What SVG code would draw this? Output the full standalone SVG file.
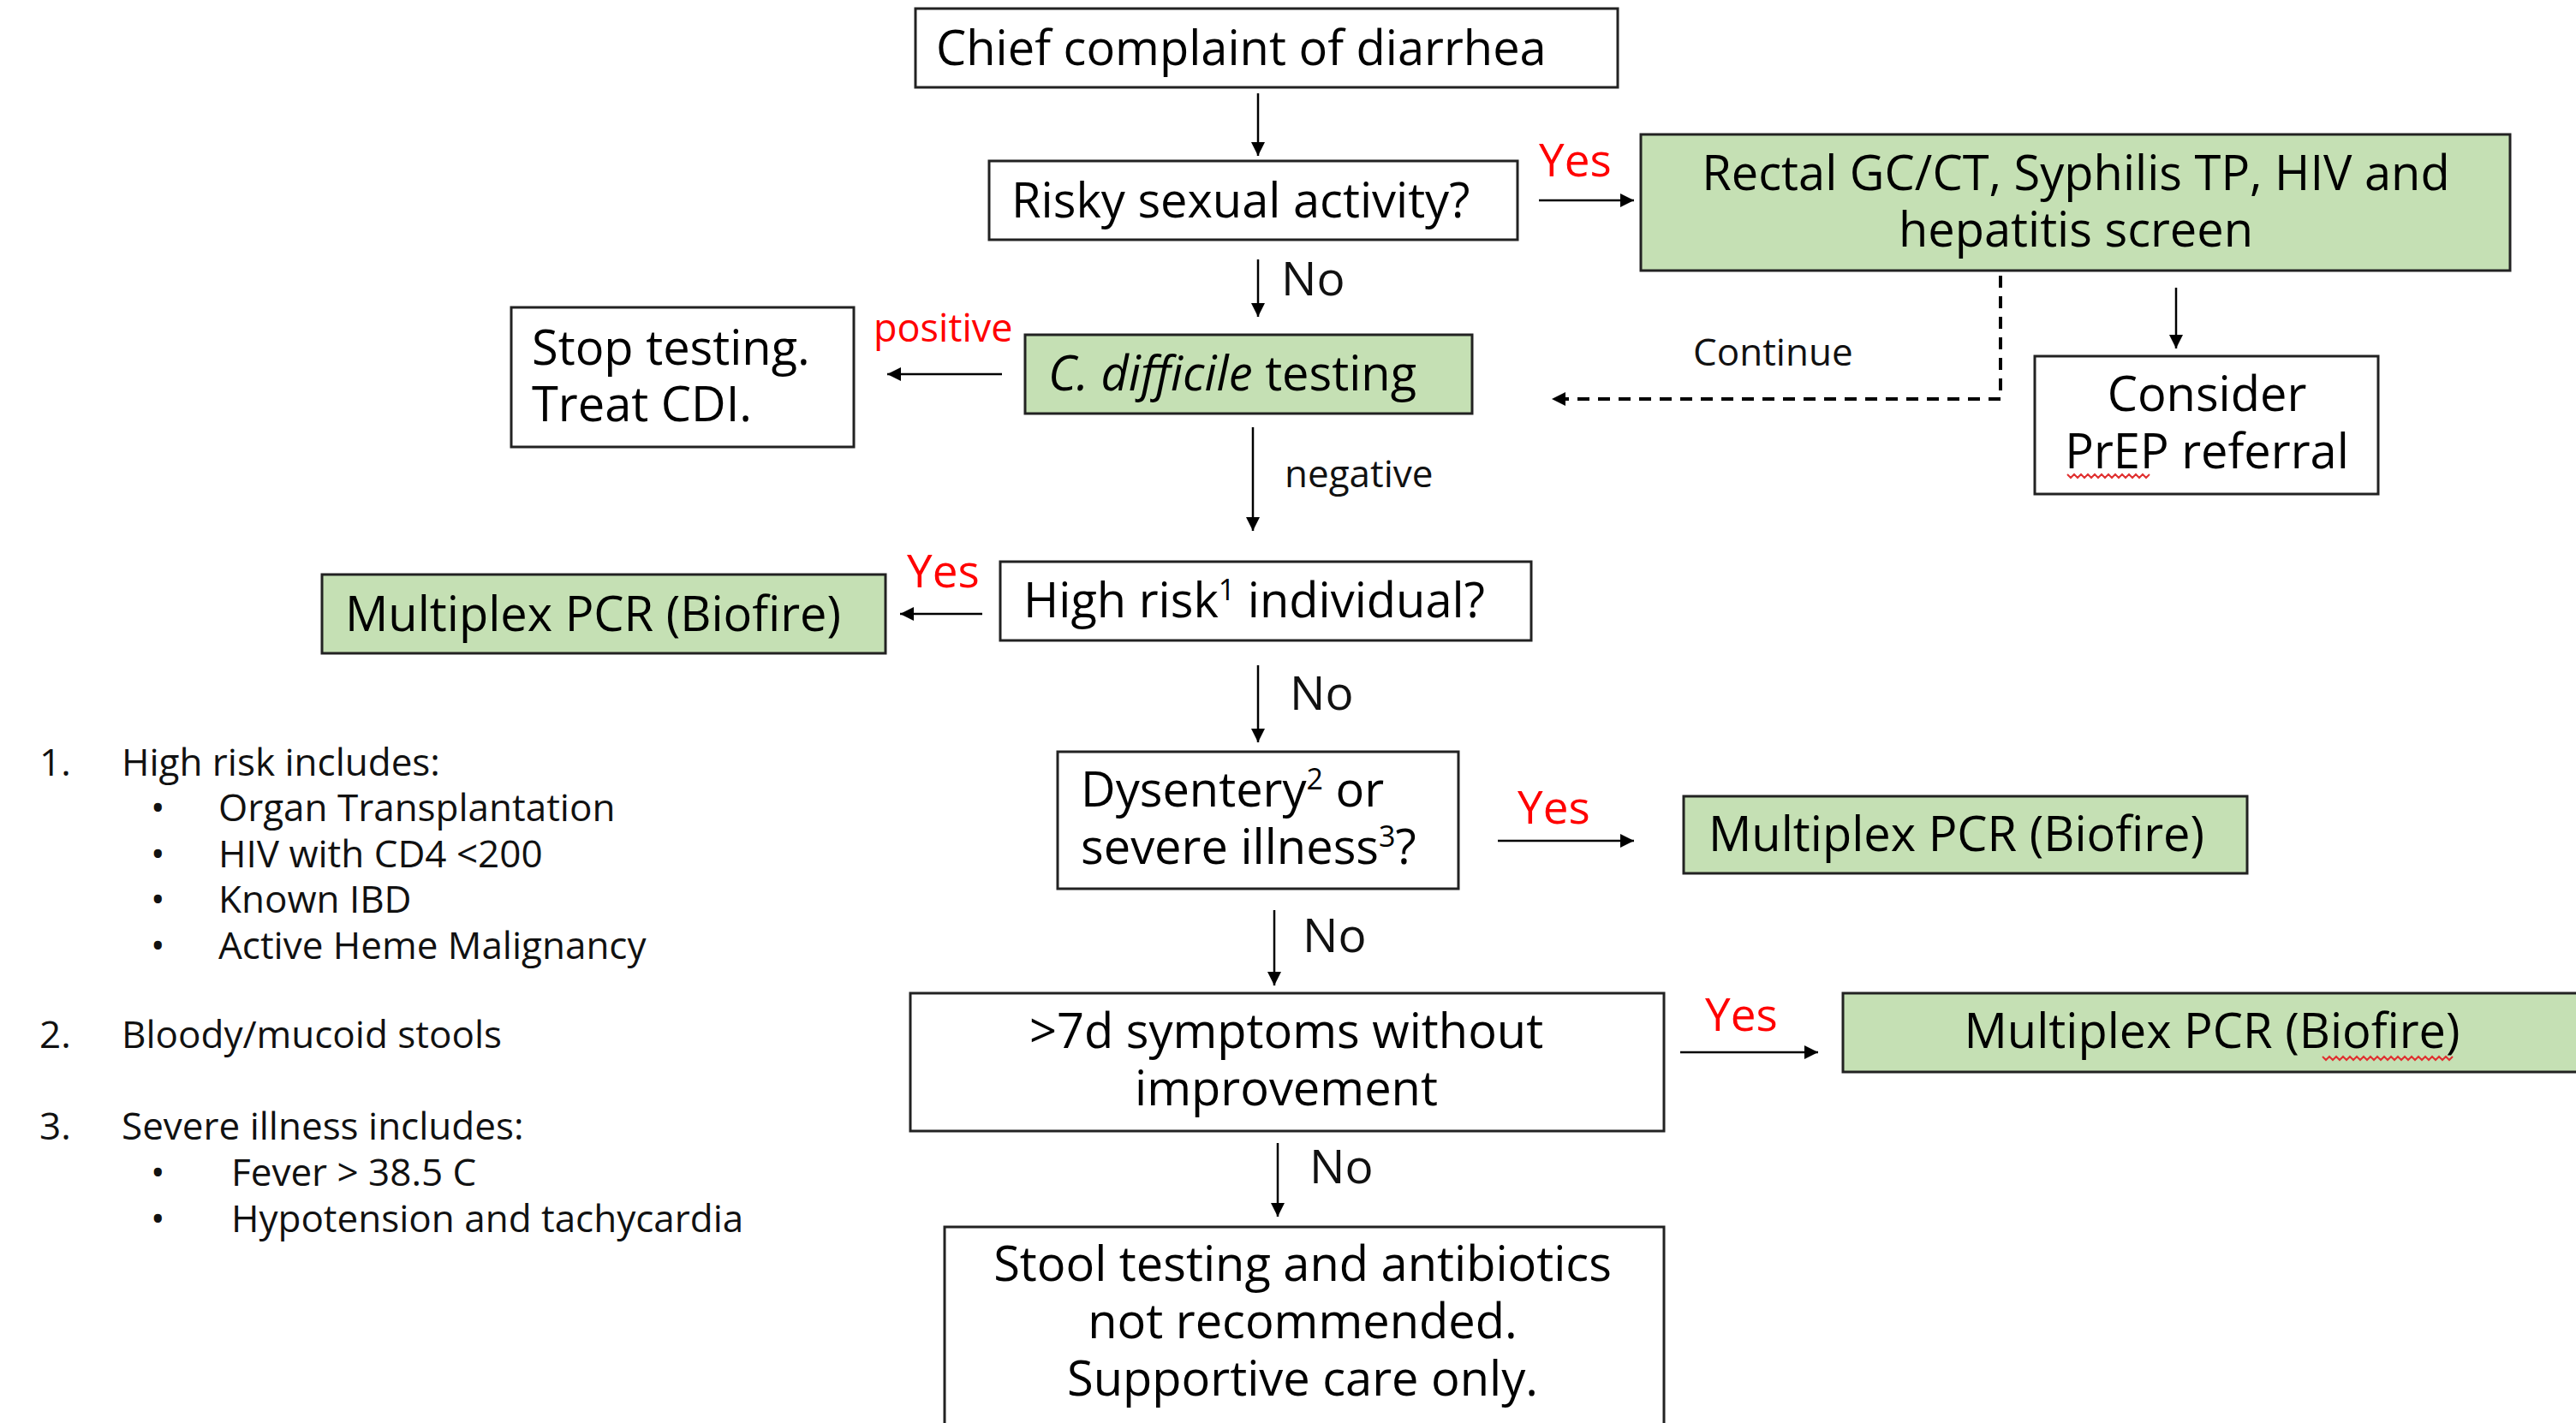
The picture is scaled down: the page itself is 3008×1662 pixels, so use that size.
<svg xmlns="http://www.w3.org/2000/svg" width="3008" height="1662" viewBox="0 0 3008 1662">
<defs>
<style>
.box{fill:#fff;stroke:#222;stroke-width:3}
.g{fill:#C5E0B4;stroke:#222;stroke-width:3}
.t{font-family:"Open Sans","Liberation Sans",sans-serif;font-size:56px;fill:#000}
.c{text-anchor:middle}
.red{font-family:"Open Sans","Liberation Sans",sans-serif;font-size:53px;fill:#FF0000}
.lab{font-family:"Open Sans","Liberation Sans",sans-serif;font-size:44px;fill:#111}
.no{font-size:55px}
.fn{font-family:"Open Sans","Liberation Sans",sans-serif;font-size:44px;fill:#111}
.ln{stroke:#000;stroke-width:2.5;fill:none}
.dash{stroke:#000;stroke-width:4;fill:none;stroke-dasharray:14 10}
.sq{stroke:#E03030;stroke-width:2;fill:none}
</style>
<marker id="a" viewBox="0 0 10 10" refX="10" refY="5" markerWidth="16" markerHeight="16" orient="auto" markerUnits="userSpaceOnUse">
<path d="M0,0 L10,5 L0,10 z" fill="#000"/>
</marker>
</defs>

<g id="connectors">
<line class="ln" x1="1469" y1="109" x2="1469" y2="182" marker-end="url(#a)"/>
<line class="ln" x1="1797" y1="234" x2="1908" y2="234" marker-end="url(#a)"/>
<line class="ln" x1="1469" y1="303" x2="1469" y2="370" marker-end="url(#a)"/>
<line class="ln" x1="1170" y1="437" x2="1036" y2="437" marker-end="url(#a)"/>
<path class="dash" d="M2336,322 V466 H1812" marker-end="url(#a)"/>
<line class="ln" x1="2541" y1="336" x2="2541" y2="407" marker-end="url(#a)"/>
<line class="ln" x1="1463" y1="499" x2="1463" y2="620" marker-end="url(#a)"/>
<line class="ln" x1="1147" y1="717" x2="1051" y2="717" marker-end="url(#a)"/>
<line class="ln" x1="1469" y1="777" x2="1469" y2="867" marker-end="url(#a)"/>
<line class="ln" x1="1749" y1="982" x2="1908" y2="982" marker-end="url(#a)"/>
<line class="ln" x1="1488" y1="1063" x2="1488" y2="1151" marker-end="url(#a)"/>
<line class="ln" x1="1962" y1="1229" x2="2123" y2="1229" marker-end="url(#a)"/>
<line class="ln" x1="1492" y1="1335" x2="1492" y2="1421" marker-end="url(#a)"/>
<text class="red" x="1797" y="206">Yes</text>
<text class="lab no" x="1496" y="345">No</text>
<text class="red" x="1020" y="399" style="font-size:45px">positive</text>
<text class="lab" x="1977" y="427">Continue</text>
<text class="lab" x="1500" y="569">negative</text>
<text class="red" x="1059" y="686">Yes</text>
<text class="lab no" x="1506" y="829">No</text>
<text class="red" x="1772" y="962">Yes</text>
<text class="lab no" x="1521" y="1112">No</text>
<text class="red" x="1991" y="1204">Yes</text>
<text class="lab no" x="1529" y="1382">No</text>
</g>

<g id="n-chief">
<rect class="box" x="1069" y="10" width="820" height="92"/>
<text class="t" x="1093" y="76">Chief complaint of diarrhea</text>
</g>

<g id="n-risky">
<rect class="box" x="1155" y="188" width="617" height="92"/>
<text class="t" x="1181" y="254">Risky sexual activity?</text>
</g>

<g id="n-rectal">
<rect class="g" x="1916" y="157" width="1015" height="159"/>
<text class="t c" x="2424" y="222">Rectal GC/CT, Syphilis TP, HIV and</text>
<text class="t c" x="2424" y="288">hepatitis screen</text>
</g>

<g id="n-cdiff">
<rect class="g" x="1197" y="391" width="522" height="92"/>
<text class="t" x="1224" y="456"><tspan font-style="italic">C. difficile</tspan> testing</text>
</g>

<g id="n-stop">
<rect class="box" x="597" y="359" width="400" height="163"/>
<text class="t" x="621" y="426">Stop testing.</text>
<text class="t" x="621" y="492">Treat CDI.</text>
</g>

<g id="n-prep">
<rect class="box" x="2376" y="416" width="401" height="161"/>
<text class="t c" x="2577" y="480">Consider</text>
<text class="t c" x="2577" y="547">PrEP referral</text>
<path class="sq" d="M2414,554 l4,4 l4,-4 l4,4 l4,-4 l4,4 l4,-4 l4,4 l4,-4 l4,4 l4,-4 l4,4 l4,-4 l4,4 l4,-4 l4,4 l4,-4 l4,4 l4,-4 l4,4 l4,-4 l4,4 l4,-4 l4,4 l4,-4"/>
</g>

<g id="n-highrisk">
<rect class="box" x="1168" y="656" width="620" height="92"/>
<text class="t" x="1195" y="721">High risk<tspan font-size="34" dy="-20">1</tspan><tspan dy="20"> individual?</tspan></text>
</g>

<g id="n-pcr1">
<rect class="g" x="376" y="671" width="658" height="92"/>
<text class="t" x="403" y="737">Multiplex PCR (Biofire)</text>
</g>

<g id="n-dysentery">
<rect class="box" x="1235" y="878" width="468" height="160"/>
<text class="t" x="1262" y="942">Dysentery<tspan font-size="34" dy="-20">2</tspan><tspan dy="20"> or</tspan></text>
<text class="t" x="1262" y="1009">severe illness<tspan font-size="34" dy="-20">3</tspan><tspan dy="20">?</tspan></text>
</g>

<g id="n-pcr2">
<rect class="g" x="1966" y="930" width="658" height="90"/>
<text class="t" x="1995" y="994">Multiplex PCR (Biofire)</text>
</g>

<g id="n-7d">
<rect class="box" x="1063" y="1160" width="880" height="161"/>
<text class="t c" x="1502" y="1224">&gt;7d symptoms without</text>
<text class="t c" x="1502" y="1291">improvement</text>
</g>

<g id="n-pcr3">
<rect class="g" x="2152" y="1160" width="870" height="92"/>
<text class="t c" x="2583" y="1224">Multiplex PCR (Biofire)</text>
<path class="sq" d="M2712,1234 l4,4 l4,-4 l4,4 l4,-4 l4,4 l4,-4 l4,4 l4,-4 l4,4 l4,-4 l4,4 l4,-4 l4,4 l4,-4 l4,4 l4,-4 l4,4 l4,-4 l4,4 l4,-4 l4,4 l4,-4 l4,4 l4,-4 l4,4 l4,-4 l4,4 l4,-4 l4,4 l4,-4 l4,4 l4,-4 l4,4 l4,-4 l4,4 l4,-4 l4,4 l4,-4"/>
</g>

<g id="n-stool">
<rect class="box" x="1103" y="1433" width="840" height="260"/>
<text class="t c" x="1521" y="1496">Stool testing and antibiotics</text>
<text class="t c" x="1521" y="1563">not recommended.</text>
<text class="t c" x="1521" y="1630">Supportive care only.</text>
</g>

<g id="footnotes">
<text class="fn" x="46" y="906">1.</text>
<text class="fn" x="142" y="906">High risk includes:</text>
<text class="fn" x="176" y="959">•</text><text class="fn" x="255" y="959">Organ Transplantation</text>
<text class="fn" x="176" y="1013">•</text><text class="fn" x="255" y="1013">HIV with CD4 &lt;200</text>
<text class="fn" x="176" y="1066">•</text><text class="fn" x="255" y="1066">Known IBD</text>
<text class="fn" x="176" y="1120">•</text><text class="fn" x="255" y="1120">Active Heme Malignancy</text>
<text class="fn" x="46" y="1224">2.</text>
<text class="fn" x="142" y="1224">Bloody/mucoid stools</text>
<text class="fn" x="46" y="1331">3.</text>
<text class="fn" x="142" y="1331">Severe illness includes:</text>
<text class="fn" x="176" y="1385">•</text><text class="fn" x="270" y="1385">Fever &gt; 38.5 C</text>
<text class="fn" x="176" y="1439">•</text><text class="fn" x="270" y="1439">Hypotension and tachycardia</text>
</g>
</svg>
